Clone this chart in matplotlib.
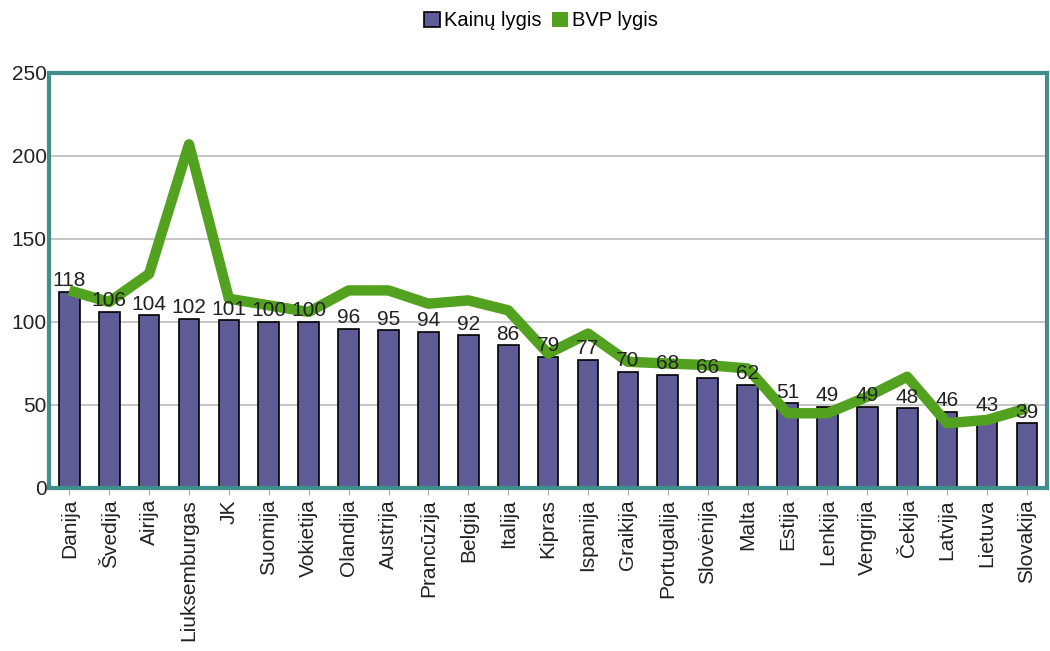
import numpy as np
import matplotlib.pyplot as plt
from matplotlib.patches import Patch

plt.rcParams['font.family'] = ['Liberation Sans', 'DejaVu Sans']

# chart data
countries = ['Danija', 'Švedija', 'Airija', 'Liuksemburgas', 'JK', 'Suomija',
             'Vokietija', 'Olandija', 'Austrija', 'Prancūzija', 'Belgija',
             'Italija', 'Kipras', 'Ispanija', 'Graikija', 'Portugalija',
             'Slovėnija', 'Malta', 'Estija', 'Lenkija', 'Vengrija', 'Čekija',
             'Latvija', 'Lietuva', 'Slovakija']
price_level = [118, 106, 104, 102, 101, 100, 100, 96, 95, 94, 92, 86, 79, 77,
               70, 68, 66, 62, 51, 49, 49, 48, 46, 43, 39]
gdp_level = [119, 112, 129, 207, 114, 110, 106, 119, 119, 111, 113, 107, 81,
             93, 76, 75, 74, 72, 45, 45, 55, 67, 39, 41, 48]
y_ticks = [0, 50, 100, 150, 200, 250]

bar_color = '#5f5b97'
line_color = '#52a11f'
frame_color = '#3f8f8c'

fig = plt.figure(figsize=(10.5, 6.51), dpi=100)
ax = fig.add_axes([0.047, 0.2504, 0.950, 0.6376])

x = np.arange(len(countries))
ax.bar(x, price_level, width=0.52, color=bar_color, edgecolor='black',
       linewidth=1.2, zorder=2)
ax.plot(x, gdp_level, color=line_color, linewidth=7.5, solid_joinstyle='round',
        solid_capstyle='butt', zorder=3)

for xi, v in zip(x, price_level):
    ax.text(xi, v + 1.0, str(v), ha='center', va='bottom', fontsize=15,
            color='#222222', zorder=4)

ax.set_xlim(-0.5, len(countries) - 0.5)
ax.set_ylim(0, 250)
ax.set_yticks(y_ticks)
ax.set_yticklabels([str(t) for t in y_ticks], fontsize=15, color='#222222')
ax.set_xticks(x)
ax.set_xticklabels(countries, rotation=90, fontsize=15, color='#222222')
ax.tick_params(axis='x', length=5, color='#aaaaaa', pad=3)
ax.tick_params(axis='y', length=0, pad=2)

ax.yaxis.grid(True, color='#c0c0c0', linewidth=1.3, zorder=0)
ax.set_axisbelow(True)
for side in ['top', 'right', 'bottom', 'left']:
    ax.spines[side].set_color(frame_color)
    ax.spines[side].set_linewidth(3)
    ax.spines[side].set_zorder(5)

handles = [Patch(facecolor=bar_color, edgecolor='black', linewidth=1.2),
           Patch(facecolor=line_color, edgecolor='none')]
fig.legend(handles, ['Kainų lygis', 'BVP lygis'], loc='center',
           bbox_to_anchor=(0.515, 0.968), ncol=2, frameon=False, fontsize=14.5,
           handlelength=0.8, handleheight=0.8, handletextpad=0.2,
           columnspacing=0.5)

fig.savefig('out.png', dpi=100)
